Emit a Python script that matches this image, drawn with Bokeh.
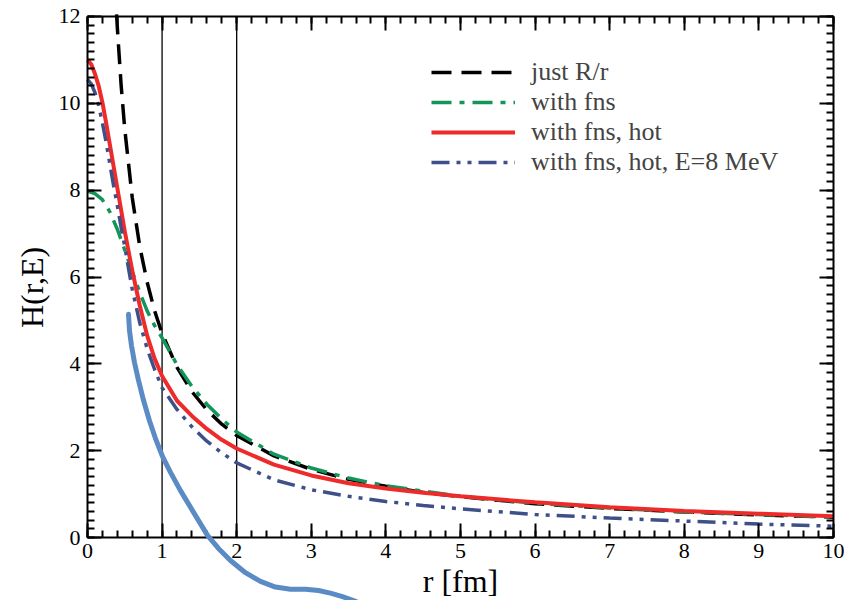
import math
from bokeh.plotting import figure
from bokeh.models import (Range1d, LinearAxis, SingleIntervalTicker, PolyAnnotation, Label)
from bokeh.embed import file_html
from bokeh.resources import INLINE

# ---- data ----
r_bare = [0.39, 0.4, 0.45, 0.5, 0.6, 0.7, 0.8, 0.9, 1.0, 1.2, 1.4, 1.6, 1.8, 2.0,
          2.5, 3.0, 3.5, 4.0, 4.5, 5.0, 6.0, 7.0, 8.0, 9.0, 10.0]
h_bare = [12.05, 11.75, 10.44, 9.4, 7.83, 6.71, 5.88, 5.22, 4.7, 3.92, 3.36, 2.94, 2.61, 2.35,
          1.88, 1.57, 1.34, 1.18, 1.04, 0.94, 0.78, 0.67, 0.59, 0.52, 0.47]

r_fns = [0.0, 0.1, 0.2, 0.3, 0.4, 0.5, 0.6, 0.7, 0.8, 0.9, 1.0, 1.2, 1.4, 1.6, 1.8, 2.0,
         2.5, 3.0, 3.5, 4.0, 5.0, 6.0, 7.0, 8.0, 9.0, 10.0]
h_fns = [7.98, 7.92, 7.78, 7.5, 7.1, 6.62, 6.12, 5.65, 5.22, 4.88, 4.6, 3.98, 3.48, 3.07, 2.73, 2.43,
         1.92, 1.6, 1.37, 1.19, 0.95, 0.79, 0.68, 0.59, 0.53, 0.47]

r_hot = [0.0, 0.05, 0.1, 0.15, 0.2, 0.25, 0.3, 0.35, 0.4, 0.45, 0.5, 0.55, 0.6, 0.7, 0.8, 0.9,
         1.0, 1.2, 1.4, 1.6, 1.8, 2.0, 2.5, 3.0, 3.5, 4.0, 4.5, 5.0, 6.0, 7.0, 8.0, 9.0, 10.0]
h_hot = [11.0, 10.9, 10.68, 10.4, 10.02, 9.55, 9.05, 8.55, 8.05, 7.55, 7.05, 6.6, 6.15, 5.35, 4.65, 4.12,
         3.72, 3.15, 2.8, 2.5, 2.25, 2.05, 1.68, 1.43, 1.25, 1.13, 1.03, 0.95, 0.81, 0.7, 0.61, 0.55, 0.49]

r_e8 = [0.0, 0.05, 0.1, 0.15, 0.2, 0.25, 0.3, 0.35, 0.4, 0.45, 0.5, 0.55, 0.6, 0.7, 0.8, 0.9,
        1.0, 1.2, 1.4, 1.6, 1.8, 2.0, 2.5, 3.0, 3.5, 4.0, 4.5, 5.0, 6.0, 7.0, 8.0, 9.0, 10.0]
h_e8 = [10.55, 10.45, 10.25, 9.95, 9.55, 9.1, 8.6, 8.1, 7.65, 7.15, 6.7, 6.2, 5.72, 4.95, 4.35, 3.87,
        3.45, 2.95, 2.55, 2.22, 1.95, 1.72, 1.33, 1.1, 0.95, 0.83, 0.74, 0.66, 0.53, 0.45, 0.38, 0.31, 0.26]

# hand-drawn blue annotation stroke (data units, extends below the axis)
note_r = [0.550, 0.563, 0.590, 0.630, 0.684, 0.751, 0.831, 0.912, 1.005, 1.113, 1.247, 1.408,
          1.609, 1.756, 1.917, 2.118, 2.319, 2.520, 2.721, 2.922, 3.097, 3.257, 3.418, 3.566, 3.686]
note_h = [5.14, 4.77, 4.42, 4.03, 3.62, 3.16, 2.69, 2.28, 1.87, 1.50, 1.08, 0.62,
          0.05, -0.25, -0.53, -0.81, -1.01, -1.14, -1.19, -1.19, -1.22, -1.28, -1.36, -1.45, -1.54]

# vertical reference lines
ref_r = [1, 2]

labels = ["just R/r", "with fns", "with fns, hot", "with fns, hot, E=8 MeV"]
x_title = "r [fm]"
y_title = "H(r,E)"
x_lo, x_hi = 0, 10
y_lo, y_hi = 0, 12
x_ticks_interval = 1
y_ticks_interval = 2

# view window (extra blank room around the axes so the stroke and labels fit)
x_view = (-1.166, 10.148)
y_view = (-1.45, 12.368)
y_title_pos = (-0.75, 5.76)

FONT = "Liberation Serif"

p = figure(width=844, height=600, output_backend="svg", toolbar_location=None,
           x_range=Range1d(*x_view), y_range=Range1d(*y_view),
           x_axis_location=None, y_axis_location=None,
           min_border_left=0, min_border_right=0, min_border_top=0, min_border_bottom=0)
p.grid.visible = False
p.background_fill_color = "white"
p.border_fill_color = "white"
p.outline_line_color = None

xt = SingleIntervalTicker(interval=x_ticks_interval, num_minor_ticks=5)
yt = SingleIntervalTicker(interval=y_ticks_interval, num_minor_ticks=10)

bottom_ax = LinearAxis(ticker=xt, fixed_location=y_lo, bounds=(x_lo, x_hi), axis_label=x_title)
left_ax = LinearAxis(ticker=yt, fixed_location=x_lo, bounds=(y_lo, y_hi))
top_ax = LinearAxis(ticker=xt, fixed_location=y_hi, bounds=(x_lo, x_hi))
right_ax = LinearAxis(ticker=yt, fixed_location=x_hi, bounds=(y_lo, y_hi))
p.add_layout(bottom_ax, "below")
p.add_layout(left_ax, "left")
p.add_layout(top_ax, "above")
p.add_layout(right_ax, "right")

for ax in [bottom_ax, left_ax, top_ax, right_ax]:
    ax.major_tick_in = 14
    ax.major_tick_out = 0
    ax.minor_tick_in = 7
    ax.minor_tick_out = 0
    ax.axis_line_width = 2
    ax.axis_line_color = "black"
    ax.major_tick_line_width = 2
    ax.minor_tick_line_width = 2
    ax.major_tick_line_color = "black"
    ax.minor_tick_line_color = "black"
    ax.major_label_text_font = FONT
    ax.major_label_text_font_size = "22px"
    ax.major_label_text_color = "black"
    ax.axis_label_text_font = FONT
    ax.axis_label_text_font_size = "32px"
    ax.axis_label_text_font_style = "normal"
    ax.axis_label_text_color = "black"

for ax in [top_ax, right_ax]:
    ax.major_label_text_font_size = "0px"
    ax.major_label_text_color = None
    ax.major_label_standoff = 0

bottom_ax.major_label_standoff = 6
left_ax.major_label_standoff = 7
bottom_ax.axis_label_standoff = 2

p.add_layout(Label(x=y_title_pos[0], y=y_title_pos[1], text=y_title, angle=math.pi / 2,
                   text_align="center", text_baseline="middle", text_font=FONT,
                   text_font_size="32px", text_color="black"))

p.segment(x0=ref_r, y0=y_lo, x1=ref_r, y1=y_hi, line_color="black", line_width=1.3)

p.line(r_bare, h_bare, line_color="black", line_width=3.5, line_dash="20 10",
       legend_label=labels[0])
p.line(r_fns, h_fns, line_color="#13955a", line_width=3.5, line_dash="20 8 5 8",
       legend_label=labels[1])
p.line(r_hot, h_hot, line_color="#ee2a2a", line_width=4, legend_label=labels[2])
p.line(r_e8, h_e8, line_color="#3f4f88", line_width=3.5, line_dash="18 7 4 7 4 7",
       legend_label=labels[3])

leg = p.legend[0]
leg.location = (431, 423)
leg.border_line_color = None
leg.background_fill_alpha = 0
leg.padding = 0
leg.margin = 0
leg.spacing = 0
leg.glyph_width = 84
leg.label_standoff = 16
leg.label_text_font = FONT
leg.label_text_font_size = "26px"
leg.label_height = 26
leg.glyph_height = 26

note = PolyAnnotation(xs=note_r + note_r[::-1], ys=note_h + note_h[::-1],
                      fill_color=None, fill_alpha=0, line_color="#5b8bc4", line_alpha=1.0,
                      line_width=5, line_join="round", line_cap="round")
p.add_layout(note)

open("out.html", "w").write(file_html(p, INLINE))
